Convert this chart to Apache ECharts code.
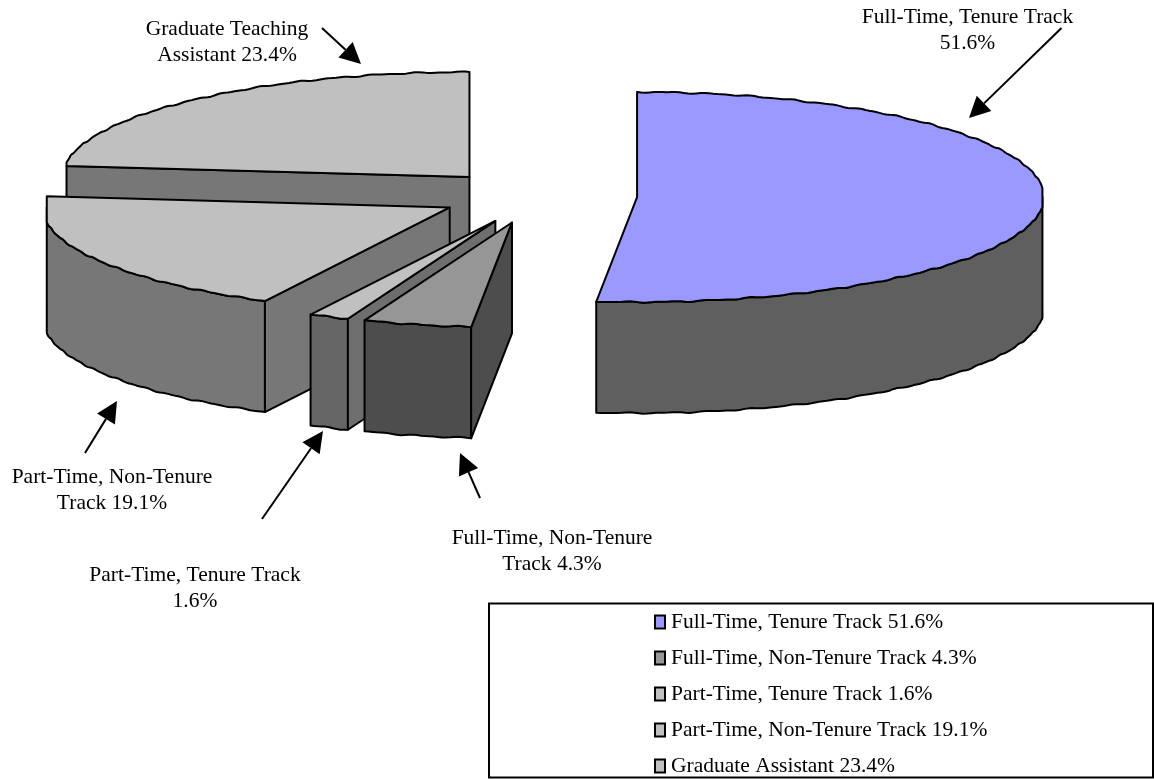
<!DOCTYPE html>
<html>
<head>
<meta charset="utf-8">
<style>html,body{margin:0;padding:0;background:#fff}#chart{width:1154px;height:779px}</style>
<script src="https://cdn.jsdelivr.net/npm/echarts@6/dist/echarts.min.js"></script>
</head>
<body>
<div id="chart"></div>
<script>
// Faculty and assistant share of instruction, exploded 3D pie.
const categories = [
  'Full-Time, Tenure Track',
  'Full-Time, Non-Tenure Track',
  'Part-Time, Tenure Track',
  'Part-Time, Non-Tenure Track',
  'Graduate Assistant'
];
const shares = [51.6, 4.3, 1.6, 19.1, 23.4];

const topColors = ['#9999FF', '#969696', '#C0C0C0', '#C0C0C0', '#C0C0C0'];
const outerWallColors = ['#5F5F5F', '#4D4D4D', '#666666', '#777777', '#777777'];
const cutWallColors = ['#5F5F5F', '#4D4D4D', '#6E6E6E', '#777777', '#777777'];

// Projection of the pie: pivot, ellipse radii, explosion distance, wall height.
const pie = { px: 536.5, py: 196.7, rx: 407, ry: 105, ex: 100.7, ey: 26.5, depth: 111 };
// Small per-slice offsets on top of the radial explosion.
const sliceShift = [[0, -1], [-1, 0], [0, 0], [1.6, -2], [0.5, 0]];
const FONT = '"Liberation Serif","Times New Roman",serif';

const deg = Math.PI / 180;

// Point on a slice rim; theta runs clockwise from the back of the pie.
function rim(cx, cy, theta, dy) {
  const s = Math.max(-0.99, Math.min(0.996, Math.sin(theta)));
  const ripple = 0.45 * Math.sin(theta * 61) + 0.3 * Math.sin(theta * 107);
  return [cx + pie.rx * s, cy - pie.ry * Math.cos(theta) + ripple + dy];
}

function arc(cx, cy, a, b, dy) {
  const pts = [];
  const n = Math.max(2, Math.ceil(Math.abs(b - a) / (0.6 * deg)));
  for (let i = 0; i <= n; i++) pts.push(rim(cx, cy, a + (b - a) * i / n, dy));
  return pts;
}

function makeRenderer(index) {
  return function (params, api) {
    const a = api.value(0) * 3.6 * deg;
    const b = api.value(1) * 3.6 * deg;
    const mid = (a + b) / 2;
    const cx = pie.px + pie.ex * Math.sin(mid) + sliceShift[index][0];
    const cy = pie.py - pie.ey * Math.cos(mid) + sliceShift[index][1];
    const line = { stroke: '#000', lineWidth: 2, lineJoin: 'round' };
    const poly = (points, fill) => ({
      type: 'polygon',
      shape: { points },
      style: Object.assign({ fill }, line),
      silent: true
    });
    const children = [];

    // Curved wall: only the front half of the rim faces the viewer.
    const fa = Math.max(a, 90 * deg);
    const fb = Math.min(b, 270 * deg);
    if (fb > fa) {
      children.push(poly(
        arc(cx, cy, fa, fb, 0).concat(arc(cx, cy, fb, fa, pie.depth)),
        outerWallColors[index]
      ));
    }

    // Cut faces of the wedge, when they turn towards the viewer.
    const cutWall = (t) => {
      const e = rim(cx, cy, t, 0);
      return poly([[cx, cy], e, [e[0], e[1] + pie.depth], [cx, cy + pie.depth]], cutWallColors[index]);
    };
    if (Math.sin(a) < -1e-6) children.push(cutWall(a));
    if (Math.sin(b) > 1e-6) children.push(cutWall(b));

    // Top face.
    children.push(poly([[cx, cy]].concat(arc(cx, cy, a, b, 0)), topColors[index]));

    return { type: 'group', children };
  };
}

let running = 0;
const series = categories.map((name, i) => {
  const start = running;
  running += shares[i];
  return {
    type: 'custom',
    name: name + ' ' + shares[i].toFixed(1) + '%',
    coordinateSystem: 'none',
    // Back slices paint first so nearer ones overlap them.
    z: [5, 4, 3, 2, 1][i],
    silent: true,
    itemStyle: { color: topColors[i] },
    renderItem: makeRenderer(i),
    data: [[start, running]]
  };
});

// Callout text and arrows.
function callout(x, y, text) {
  return {
    type: 'text', x, y, silent: true,
    style: { text, font: '21.5px ' + FONT, fill: '#000', align: 'center', verticalAlign: 'middle', lineHeight: 26 }
  };
}
function arrow(x0, y0, x1, y1) {
  const len = Math.hypot(x1 - x0, y1 - y0);
  const ux = (x1 - x0) / len, uy = (y1 - y0) / len;
  const hl = 21, hw = 10.5;
  const bx = x1 - ux * hl, by = y1 - uy * hl;
  return [
    { type: 'line', silent: true, shape: { x1: x0, y1: y0, x2: bx, y2: by }, style: { stroke: '#000', lineWidth: 2 } },
    { type: 'polygon', silent: true,
      shape: { points: [[x1, y1], [bx - uy * hw, by + ux * hw], [bx + uy * hw, by - ux * hw]] },
      style: { fill: '#000' } }
  ];
}

const graphics = [
  callout(967.5, 30, 'Full-Time, Tenure Track\n51.6%'),
  callout(227, 42, 'Graduate Teaching\nAssistant 23.4%'),
  callout(112, 490.5, 'Part-Time, Non-Tenure\nTrack 19.1%'),
  callout(195, 588, 'Part-Time, Tenure Track\n1.6%'),
  callout(552, 551, 'Full-Time, Non-Tenure\nTrack 4.3%'),
  ...arrow(1061.5, 28, 969, 118),
  ...arrow(322, 28, 361, 64),
  ...arrow(85, 453, 117, 401),
  ...arrow(262, 519, 323, 431),
  ...arrow(480, 498, 460, 453),
  { type: 'rect', silent: true, z: -1,
    shape: { x: 489, y: 603.5, width: 664, height: 174 },
    style: { fill: '#fff', stroke: '#000', lineWidth: 2 } }
];

const chart = echarts.init(document.getElementById('chart'), null, { renderer: 'canvas' });
chart.setOption({
  animation: false,
  backgroundColor: '#fff',
  tooltip: { show: false },
  legend: {
    orient: 'vertical',
    left: 654,
    top: 611,
    height: 300,
    padding: 0,
    itemWidth: 10,
    itemHeight: 13,
    itemGap: 14,
    icon: 'rect',
    selectedMode: false,
    itemStyle: { borderColor: '#000', borderWidth: 2 },
    textStyle: { fontFamily: FONT, fontSize: 21.5, lineHeight: 20, color: '#000', padding: [0, 0, 0, 1] },
    data: series.map(s => s.name)
  },
  graphic: graphics,
  series
});
</script>
</body>
</html>
